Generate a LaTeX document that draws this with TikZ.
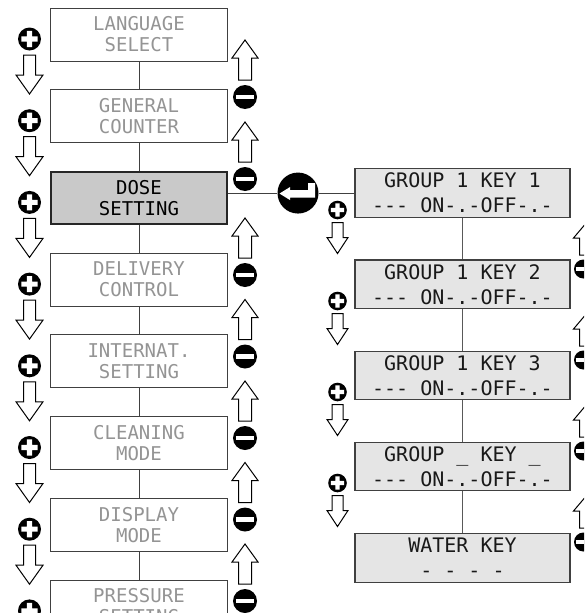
\documentclass[tikz,border=0pt]{standalone}
\usepackage{fontspec}
\setmonofont{DejaVu Sans Mono}
\usetikzlibrary{positioning}
\definecolor{dimtext}{gray}{0.58}
\definecolor{boxline}{gray}{0.25}
\definecolor{dosefill}{gray}{0.79}
\definecolor{keyfill}{gray}{0.9}
\tikzset{
  menu/.style={draw=boxline,line width=0.9pt,fill=white,text=dimtext,minimum width=177pt,minimum height=53pt,
    inner sep=0pt,align=center,font=\ttfamily\fontsize{19}{21}\selectfont},
  chosen/.style={menu,draw=black!85,line width=2.3pt,fill=dosefill,text=black,minimum width=175.7pt,minimum height=51.7pt},
  keybox/.style={draw=boxline,line width=1.1pt,fill=keyfill,text=black!90,minimum width=215pt,minimum height=48.5pt,
    inner sep=0pt,align=center,font=\ttfamily\fontsize{20}{25}\selectfont},
  pics/plusbtn/.style={code={
    \fill (0,0) circle (#1);
    \fill[white] (-.7*#1,-.22*#1) rectangle (.7*#1,.22*#1) (-.22*#1,-.7*#1) rectangle (.22*#1,.7*#1);}},
  pics/minusbtn/.style={code={
    \fill (0,0) circle (#1);
    \fill[white] (-.74*#1,-.18*#1) rectangle (.74*#1,.18*#1);}},
  pics/downarr/.style n args={4}{code={
    \draw[fill=white,line width=1pt] (-#4,0) -- (#4,0) -- (#4,#1-#2) -- (#3,#1-#2) -- (0,#1) -- (-#3,#1-#2) -- (-#4,#1-#2) -- cycle;}},
  pics/uparr/.style n args={4}{code={
    \draw[fill=white,line width=1pt] (0,0) -- (#3,#2) -- (#4,#2) -- (#4,#1) -- (-#4,#1) -- (-#4,#2) -- (-#3,#2) -- cycle;}}
}
\begin{document}
\begin{tikzpicture}[x=1pt,y=-1pt,node distance=27.8pt]
  \clip (0,0) rectangle (584,613);
  \node[menu]   (lang)  at (139,34.5)   {LANGUAGE\\SELECT};
  \node[menu]   (count) [below=of lang]  {GENERAL\\COUNTER};
  \node[chosen] (dose)  [below=of count] {DOSE\\SETTING};
  \node[menu]   (deliv) [below=of dose]  {DELIVERY\\CONTROL};
  \node[menu]   (intern)[below=of deliv] {INTERNAT.\\SETTING};
  \node[menu]   (clean) [below=of intern]{CLEANING\\MODE};
  \node[menu]   (disp)  [below=of clean] {DISPLAY\\MODE};
  \node[menu]   (press) [below=of disp]  {PRESSURE\\SETTING};

  \node[circle,fill=black,minimum size=41pt,inner sep=0pt,right=49.3pt of dose,yshift=4.9pt] (enter) {};
  \node[keybox] (g1) [right=35.7pt of enter]     {GROUP 1 KEY 1\\--- ON-.-OFF-.-};
  \node[keybox] (g2) [below=41.6pt of g1]        {GROUP 1 KEY 2\\--- ON-.-OFF-.-};
  \node[keybox] (g3) [below=41.6pt of g2]        {GROUP 1 KEY 3\\--- ON-.-OFF-.-};
  \node[keybox] (gx) [below=41.6pt of g3]        {GROUP \_ KEY \_\\--- ON-.-OFF-.-};
  \node[keybox] (water) [below=41.6pt of gx]     {WATER KEY\\- - - -};

  \fill[white,shift={(enter)}] (-18.5,0.5) -- (-8,-6) -- (-8,-3) -- (10,-3) -- (10,-10) -- (17,-10)
    -- (17,4.5) -- (-8,4.5) -- (-8,7) -- cycle;

  \draw[boxline,line width=0.9pt] (lang) -- (count) -- (dose) -- (deliv) -- (intern) -- (clean) -- (disp) -- (press);
  \draw[boxline,line width=1pt] (dose.east |- enter) -- (enter) -- (g1);
  \draw[gray!70!black,line width=0.8pt] (g1) -- (g2) -- (g3) -- (gx) -- (water);

  \foreach \y in {39,120.7,202.4,284.1,365.8,447.5,529.2,610.9} {
    \pic at (29.5,\y) {plusbtn=11.5};
    \pic at (29.5,\y+16) {downarr={39}{19}{13.5}{6}};
  }
  \foreach \y in {97,179,275,356.5,438,519.5,601} {
    \pic at (245,\y) {minusbtn=12};
    \pic at (245,\y-57) {uparr={40}{18}{13}{6.5}};
  }
  \foreach \y in {210,301,392,483} {
    \pic at (337.5,\y) {plusbtn=9.3};
    \pic at (337.5,\y+12.5) {downarr={31}{16}{10.5}{5.5}};
  }
  \foreach \y in {269,360,451,542} {
    \pic at (583.5,\y) {minusbtn=9.5};
    \pic at (584.5,\y-44) {uparr={30}{13}{11}{5}};
  }
\end{tikzpicture}
\end{document}
